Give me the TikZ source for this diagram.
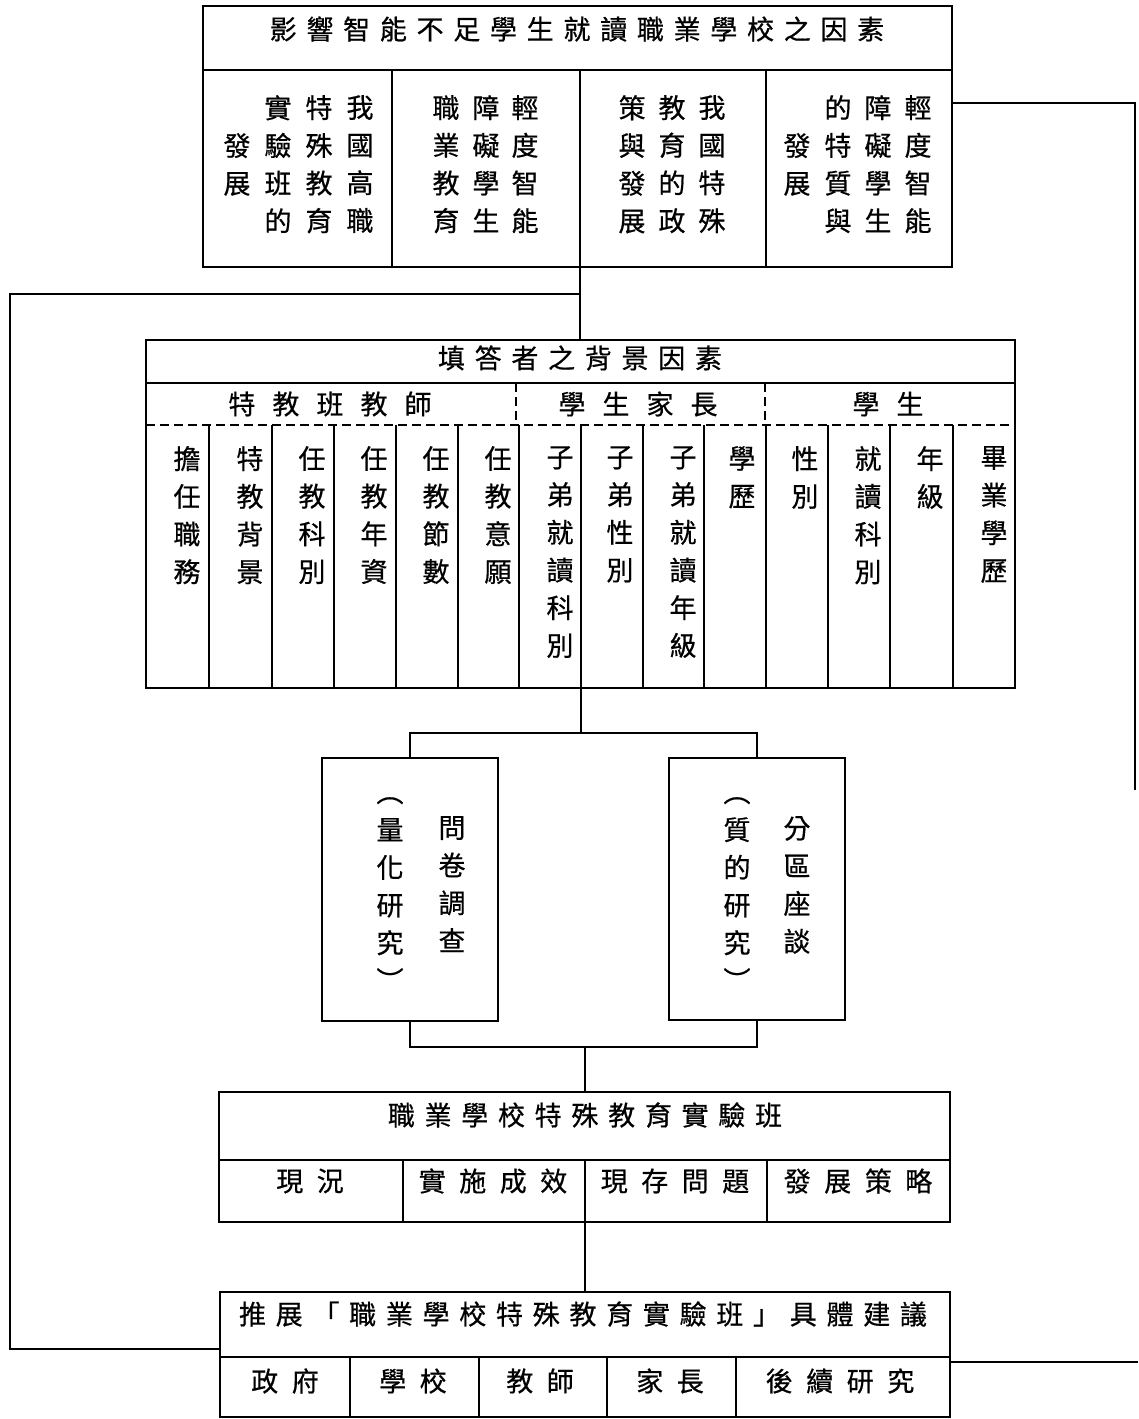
\documentclass[tikz,border=0pt]{standalone}
\usepackage{fontspec}
\newfontfamily\cjk[FakeBold=0.6]{Noto Sans CJK TC}
\newfontfamily\cjksp[LetterSpace=36,FakeBold=0.6]{Noto Sans CJK TC}
\newfontfamily\cjkcell[LetterSpace=50,FakeBold=0.6]{Noto Sans CJK TC}
\newfontfamily\cjkwide[LetterSpace=63,FakeBold=0.6]{Noto Sans CJK TC}
\tikzset{
  frame/.style={draw, line width=1.6pt, inner sep=0pt, outer sep=0pt, anchor=north west},
  rule/.style={line width=1.6pt},
  dashrule/.style={line width=2.6pt, dash pattern=on 9pt off 5pt},
  head/.style={font=\cjksp\fontsize{27}{30}\selectfont, inner sep=0pt},
  cellhead/.style={font=\cjkcell\fontsize{27}{30}\selectfont, inner sep=0pt},
  widehead/.style={font=\cjkwide\fontsize{27}{30}\selectfont, inner sep=0pt},
  vtext/.style={font=\cjk\fontsize{27}{37.7}\selectfont, align=center, anchor=north, inner sep=0pt},
}
\begin{document}
\begin{tikzpicture}[x=1pt, y=-1pt]
\useasboundingbox (0,0) rectangle (1138,1419);

\node[frame, minimum width=749, minimum height=261] (factor) at (203,6) {};
\draw[rule] (203,70) -- (952,70);
\foreach \x in {392,580,766} \draw[rule] (\x,70) -- (\x,267);
\node[head] (factorT) at (577,29) {影響智能不足學生就讀職業學校之因素};
\foreach \x/\t in {360/我\\國\\高\\職, 319/特\\殊\\教\\育, 278/實\\驗\\班\\的,
    525/輕\\度\\智\\能, 486/障\\礙\\學\\生, 446/職\\業\\教\\育,
    712/我\\國\\特\\殊, 672/教\\育\\的\\政, 632/策\\與\\發\\展,
    918/輕\\度\\智\\能, 878/障\\礙\\學\\生, 838/的\\特\\質\\與}
  \node[vtext] (f\x) at (\x,95) {\t};
\node[vtext] (f237) at (237,133) {發\\展};
\node[vtext] (f797) at (797,133) {發\\展};

\node[frame, minimum width=869, minimum height=348] (resp) at (146,340) {};
\draw[rule] (146,383) -- (1015,383);
\draw[dashrule] (146,425) -- (1015,425);
\draw[dashrule, line width=2pt] (516,383) -- (516,425);
\draw[dashrule, line width=2pt] (765,383) -- (765,425);
\foreach \x in {209,272,334,396,458,519,581,643,704,766,828,890,953}
  \draw[rule] (\x,425) -- (\x,688);
\node[head] (respT) at (580,358) {填答者之背景因素};
\node[widehead] (teach) at (330,404) {特教班教師};
\node[widehead] (parent) at (638,404) {學生家長};
\node[widehead] (stud) at (888,404) {學生};
\foreach \x/\t in {187/擔\\任\\職\\務, 250/特\\教\\背\\景, 312/任\\教\\科\\別,
    374/任\\教\\年\\資, 436/任\\教\\節\\數, 498/任\\教\\意\\願,
    560/子\\弟\\就\\讀\\科\\別, 620/子\\弟\\性\\別, 683/子\\弟\\就\\讀\\年\\級,
    742/學\\歷, 805/性\\別, 868/就\\讀\\科\\別, 930/年\\級, 994/畢\\業\\學\\歷}
  \node[vtext] (r\x) at (\x,446) {\t};

\coordinate (j1) at (580,294);
\coordinate (lb) at (10,1349);
\draw[rule] (factor.south -| j1) -- (resp.north -| j1);
\draw[rule] (j1) -| (lb) -- (lb -| 220,0);
\coordinate (rt) at (1135,103);
\coordinate (rb) at (1135,790);
\draw[rule] (factor.east |- rt) -- (rt) -- (rb);

\node[frame, minimum width=176, minimum height=263] (quan) at (322,758) {};
\node[frame, minimum width=176, minimum height=262] (qual) at (669,758) {};
\node[vtext] (quanA) at (452,816) {問\\卷\\調\\查};
\node[vtext] (quanB) at (390,797) {︵\\量\\化\\研\\究\\︶};
\node[vtext] (qualA) at (797,816) {分\\區\\座\\談};
\node[vtext] (qualB) at (737,797) {︵\\質\\的\\研\\究\\︶};

\coordinate (j2) at (581,733);
\draw[rule] (resp.south -| j2) -- (j2);
\draw[rule] (quan.north) |- (j2) -| (qual.north);

\node[frame, minimum width=731, minimum height=130] (sta) at (219,1092) {};
\draw[rule] (219,1160) -- (950,1160);
\foreach \x in {403,585,767} \draw[rule] (\x,1160) -- (\x,1222);
\node[head] (staT) at (585,1115) {職業學校特殊教育實驗班};
\foreach \x/\t in {310/現況, 493/實施成效, 675/現存問題, 858/發展策略}
  \node[cellhead] (s\x) at (\x,1181) {\t};

\coordinate (j3) at (585,1047);
\draw[rule] (quan.south) |- (j3) -| (qual.south);
\draw[rule] (j3) -- (sta.north -| j3);

\node[frame, minimum width=730, minimum height=125] (rec) at (220,1292) {};
\draw[rule] (220,1357) -- (950,1357);
\foreach \x in {350,479,607,736} \draw[rule] (\x,1357) -- (\x,1417);
\node[head] (recT) at (583,1314) {推展「職業學校特殊教育實驗班」具體建議};
\foreach \x/\t in {285/政府, 413/學校, 540/教師, 670/家長, 840/後續研究}
  \node[cellhead] (c\x) at (\x,1381) {\t};
\draw[rule] (sta.south -| j3) -- (rec.north -| j3);

\coordinate (br) at (1138,1362);
\draw[rule] (rec.east |- br) -- (br);
\end{tikzpicture}
\end{document}
